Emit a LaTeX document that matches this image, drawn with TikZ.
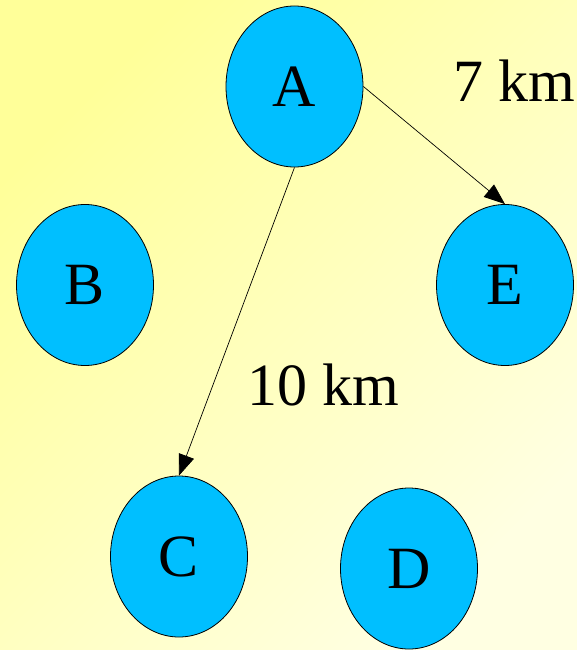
\documentclass[tikz,border=0pt]{standalone}
\usepackage{fontspec}
\setmainfont{Liberation Serif}
\usetikzlibrary{shapes.geometric,arrows.meta}
\definecolor{bgA}{HTML}{FFFF99}
\definecolor{bgB}{HTML}{FFFFE2}
\definecolor{nodeblue}{HTML}{00BFFF}
\begin{document}
\begin{tikzpicture}[x=1pt,y=-1pt,
  city/.style={ellipse,draw=black,line width=0.8pt,fill=nodeblue,minimum width=137pt,minimum height=161pt,inner sep=0pt,font=\fontsize{60}{62}\selectfont},
  road/.style={draw=black,line width=0.7pt,-{Triangle[length=21pt,width=16pt]}},
  dist/.style={anchor=base,inner sep=0pt,font=\fontsize{60}{62}\selectfont}]
\useasboundingbox (0,0) rectangle (577,650);
\shade[top color=bgA,bottom color=bgB,shading angle=45] (0,0) rectangle (577,650);
\node[city] (A) at (294.5,86.5) {A};
\node[city] (B) at (85,285) {B};
\node[city] (E) at (505,285) {E};
\node[city] (C) at (179,556.5) {C};
\node[city] (D) at (409,568.5) {D};
\draw[road] (A.east) -- (E.north);
\draw[road] (A.south) -- (C.north);
\node[dist] (d1) at (514,102) {7 km};
\node[dist] (d2) at (323.5,405) {10 km};
\end{tikzpicture}
\end{document}
